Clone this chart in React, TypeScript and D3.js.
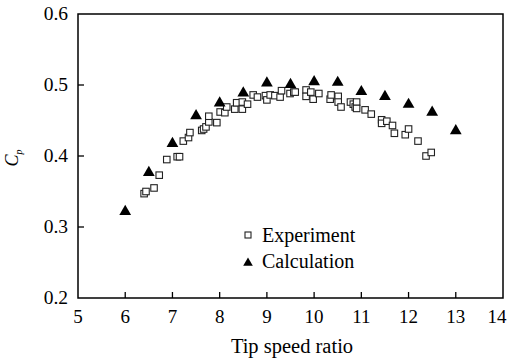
import React from "react";
import * as d3 from "d3";

const expX = [6.40, 6.44, 6.61, 6.72, 6.88, 7.10, 7.15, 7.23, 7.34, 7.37, 7.62, 7.66, 7.71, 7.77, 7.77, 7.94, 8.01, 8.11, 8.15, 8.32, 8.36, 8.48, 8.48, 8.59, 8.71, 8.80, 8.97, 9.00, 9.07, 9.17, 9.28, 9.31, 9.49, 9.57, 9.60, 9.83, 9.83, 9.93, 9.98, 10.10, 10.34, 10.36, 10.51, 10.51, 10.57, 10.77, 10.83, 10.87, 10.90, 10.90, 11.08, 11.21, 11.43, 11.43, 11.54, 11.66, 11.70, 11.93, 12.00, 12.20, 12.37, 12.48];
const expY = [0.347, 0.350, 0.355, 0.373, 0.395, 0.399, 0.399, 0.421, 0.426, 0.433, 0.436, 0.438, 0.441, 0.448, 0.456, 0.447, 0.462, 0.461, 0.469, 0.466, 0.475, 0.466, 0.476, 0.473, 0.486, 0.483, 0.485, 0.479, 0.486, 0.485, 0.483, 0.492, 0.488, 0.490, 0.490, 0.493, 0.484, 0.490, 0.480, 0.488, 0.480, 0.486, 0.484, 0.476, 0.469, 0.476, 0.473, 0.469, 0.476, 0.467, 0.465, 0.459, 0.451, 0.446, 0.449, 0.443, 0.432, 0.430, 0.438, 0.421, 0.400, 0.405];

const calcX = [6.0, 6.5, 7.0, 7.5, 8.0, 8.5, 9.0, 9.5, 10.0, 10.5, 11.0, 11.5, 12.0, 12.5, 13.0];
const calcY = [0.323, 0.378, 0.419, 0.458, 0.476, 0.490, 0.504, 0.502, 0.506, 0.505, 0.492, 0.485, 0.474, 0.463, 0.437];

const xTicks = [5, 6, 7, 8, 9, 10, 11, 12, 13, 14];
const yTicks = [0.2, 0.3, 0.4, 0.5, 0.6];

const W = 510, H = 364;
const L = 78, R = 503, T = 14, B = 298;
const FONT = "'Liberation Serif', 'Times New Roman', serif";

export default function App() {
  const x = d3.scaleLinear().domain([5, 14]).range([L, R]);
  const y = d3.scaleLinear().domain([0.2, 0.6]).range([B, T]);
  const tri = d3.symbol().type(d3.symbolTriangle).size(60)();
  const sq = 6.5;
  return (
    <svg width={W} height={H} style={{ position: "absolute", left: 0, top: 0, background: "#fff" }} fontFamily={FONT}>
      <rect x={L} y={T} width={R - L} height={B - T} fill="none" stroke="#000" strokeWidth={1.5} />
      {xTicks.map((t) => (
        <g key={"x" + t}>
          {t > 5 && t < 14 && <line x1={x(t)} x2={x(t)} y1={B} y2={B - 6} stroke="#000" strokeWidth={1.3} />}
          <text x={t === 14 ? x(t) - 6 : x(t)} y={323} fontSize={19} textAnchor="middle">{t}</text>
        </g>
      ))}
      {yTicks.map((t) => (
        <g key={"y" + t}>
          {t > 0.2 && t < 0.6 && <line x1={L} x2={L + 6} y1={y(t)} y2={y(t)} stroke="#000" strokeWidth={1.3} />}
          <text x={68} y={y(t) + 6} fontSize={19.5} textAnchor="end">{t.toFixed(1)}</text>
        </g>
      ))}
      <text x={292} y={353} fontSize={20.5} textAnchor="middle">Tip speed ratio</text>
      <g transform="translate(18,158) rotate(-90)">
        <text x={0} y={0} fontSize={18} textAnchor="middle" fontStyle="italic">
          C<tspan fontSize={10} dy={4}>p</tspan>
        </text>
      </g>
      {expX.map((v, i) => (
        <rect key={"e" + i} x={x(v) - sq / 2} y={y(expY[i]) - sq / 2} width={sq} height={sq} fill="#fff" stroke="#222" strokeWidth={1.1} />
      ))}
      {calcX.map((v, i) => (
        <path key={"c" + i} d={tri!} transform={`translate(${x(v)},${y(calcY[i]) + 1})`} fill="#000" />
      ))}
      <rect x={245} y={232} width={6} height={6} fill="#fff" stroke="#222" strokeWidth={1.1} />
      <text x={262} y={242} fontSize={20}>Experiment</text>
      <path d={d3.symbol().type(d3.symbolTriangle).size(40)()!} transform="translate(248,263)" fill="#000" />
      <text x={262} y={268} fontSize={20}>Calculation</text>
    </svg>
  );
}
